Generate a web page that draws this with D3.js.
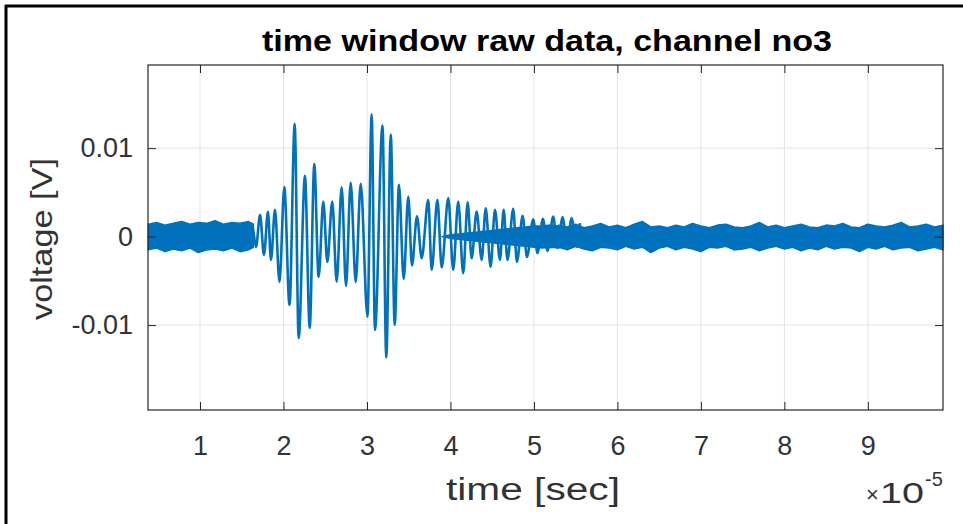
<!DOCTYPE html>
<html>
<head>
<meta charset="utf-8">
<script src="https://cdn.jsdelivr.net/npm/d3@7"></script>
<style>
  body { margin: 0; background: #fff; }
  svg { display: block; }
  text { font-family: "Liberation Sans", Arial, Helvetica, sans-serif; }
</style>
</head>
<body>
<div id="chart"></div>
<script>
// time in units of 1e-5 s, voltage in V
const xTicks = [1, 2, 3, 4, 5, 6, 7, 8, 9]
const yTicks = [-0.01, 0, 0.01]
const yTickLabels = ['-0.01', '0', '0.01']

// oscillation extrema of the burst
const burstTime = [1.599, 1.623, 1.671, 1.719, 1.766, 1.814, 1.850, 1.898, 1.952, 2.010,
  2.072, 2.134, 2.182, 2.257, 2.314, 2.369, 2.421, 2.477, 2.525, 2.584,
  2.637, 2.697, 2.749, 2.805, 2.865, 2.925, 3.006, 3.056, 3.096, 3.186,
  3.231, 3.285, 3.332, 3.383, 3.440, 3.495, 3.539, 3.599, 3.655, 3.734,
  3.775, 3.844, 3.895, 3.974, 4.033, 4.093, 4.153, 4.206, 4.254, 4.314,
  4.374, 4.422, 4.481, 4.533, 4.593, 4.637, 4.683, 4.752, 4.796, 4.865,
  4.916, 4.992, 5.042, 5.108, 5.162, 5.231, 5.281, 5.344, 5.395, 5.451,
  5.511, 5.551]
const burstVolt = [0, 0.00132, -0.00117, 0.00246, -0.00207, 0.00280, -0.00264, 0.00302, -0.00513, 0.00559,
  -0.00773, 0.01276, -0.01147, 0.00687, -0.01033, 0.00819, -0.00456, 0.00396, -0.00286, 0.00396,
  -0.00509, 0.00557, -0.00558, 0.00608, -0.00513, 0.00596, -0.00905, 0.01383, -0.01056, 0.01259,
  -0.01367, 0.01155, -0.00999, 0.00585, -0.00479, 0.00453, -0.00326, 0.00229, -0.00244, 0.00415,
  -0.00377, 0.00415, -0.00349, 0.00435, -0.00377, 0.00396, -0.00414, 0.00387, -0.00244, 0.00283,
  -0.00264, 0.00321, -0.00340, 0.00302, -0.00264, 0.00302, -0.00264, 0.00314, -0.00286, 0.00234,
  -0.00230, 0.00195, -0.00188, 0.00200, -0.00162, 0.00226, -0.00128, 0.00217, -0.00128, 0.00208,
  -0.00113, 0.00152]

// noise band envelope before the burst
const preTime = [0.38, 0.48, 0.58, 0.68, 0.78, 0.88, 0.98, 1.08, 1.18, 1.28, 1.38, 1.48, 1.58, 1.64]
const preUpper = [0.0014, 0.0016, 0.0013, 0.0015, 0.0017, 0.0014, 0.0016, 0.0015, 0.0018, 0.0014, 0.0016, 0.0015, 0.0017, 0.0014]
const preLower = [-0.0015, -0.0013, -0.0017, -0.0014, -0.0016, -0.0013, -0.0018, -0.0015, -0.0014, -0.0016, -0.0013, -0.0017, -0.0015, -0.0012]

// noise growing under the decaying tail
const tailTime = [3.9, 4.0, 4.1, 4.2, 4.3, 4.4, 4.5, 4.6, 4.7, 4.8, 4.9, 5.0, 5.1, 5.2, 5.3]
const tailUpper = [0, 0.0002, 0.0003, 0.0004, 0.0005, 0.0006, 0.0007, 0.0008, 0.0009, 0.0010, 0.0011, 0.0012, 0.0012, 0.0013, 0.0012]
const tailLower = [0, -0.0002, -0.0003, -0.0004, -0.0005, -0.0006, -0.0007, -0.0008, -0.0009, -0.0010, -0.0011, -0.0012, -0.0013, -0.0012, -0.0013]

// noise band envelope after the burst
const postTime = [5.3, 5.4, 5.5, 5.6, 5.7, 5.8, 5.9, 6.0, 6.1, 6.2,
  6.3, 6.4, 6.5, 6.6, 6.7, 6.8, 6.9, 7.0, 7.1, 7.2,
  7.3, 7.4, 7.5, 7.6, 7.7, 7.8, 7.9, 8.0, 8.1, 8.2,
  8.3, 8.4, 8.5, 8.6, 8.7, 8.8, 8.9, 9.0, 9.1, 9.2,
  9.3, 9.4, 9.5, 9.6, 9.7, 9.8, 9.9]
const postUpper = [0.0013, 0.0011, 0.0014, 0.0010, 0.0012, 0.0015, 0.0011, 0.0013, 0.0010, 0.0014,
  0.0017, 0.0011, 0.0012, 0.0010, 0.0013, 0.0011, 0.0015, 0.0012, 0.0010, 0.0013,
  0.0014, 0.0011, 0.0010, 0.0012, 0.0016, 0.0011, 0.0013, 0.0010, 0.0012, 0.0014,
  0.0011, 0.0010, 0.0013, 0.0012, 0.0015, 0.0011, 0.0010, 0.0014, 0.0012, 0.0011,
  0.0013, 0.0016, 0.0011, 0.0012, 0.0014, 0.0011, 0.0013]
const postLower = [-0.0012, -0.0015, -0.0011, -0.0014, -0.0016, -0.0012, -0.0013, -0.0015, -0.0011, -0.0014,
  -0.0012, -0.0018, -0.0013, -0.0011, -0.0015, -0.0012, -0.0014, -0.0017, -0.0012, -0.0013,
  -0.0011, -0.0015, -0.0014, -0.0012, -0.0016, -0.0013, -0.0011, -0.0014, -0.0012, -0.0016,
  -0.0013, -0.0015, -0.0011, -0.0014, -0.0012, -0.0013, -0.0017, -0.0012, -0.0014, -0.0011,
  -0.0015, -0.0013, -0.0012, -0.0016, -0.0014, -0.0012, -0.0015]

// Const variables
const width = 963
const height = 524
const plot = { left: 148, right: 943, top: 65, bottom: 410 }
const lineColor = '#0072BD'
const axisColor = '#262626'
const textColor = '#333'
const tickFontSize = 27

const svg = d3.select('#chart')
  .append('svg')
    .attr('width', width)
    .attr('height', height)

const x = d3.scaleLinear().domain([0.377, 9.9]).range([plot.left, plot.right])
const y = d3.scaleLinear().domain([-0.0196, 0.0194]).range([plot.bottom, plot.top])

// Grid
const grid = svg.append('g').attr('stroke', '#e3e3e3').attr('stroke-width', 1)
xTicks.forEach(t => grid.append('line')
  .attr('x1', x(t)).attr('x2', x(t)).attr('y1', plot.top).attr('y2', plot.bottom))
yTicks.forEach(v => grid.append('line')
  .attr('x1', plot.left).attr('x2', plot.right).attr('y1', y(v)).attr('y2', y(v)))

// Noise bands
const band = d3.area()
  .x(d => x(d[0]))
  .y0(d => y(d[2]))
  .y1(d => y(d[1]))

const bands = [
  d3.zip(preTime, preUpper, preLower),
  d3.zip(tailTime, tailUpper, tailLower),
  d3.zip(postTime, postUpper, postLower)
]
svg.append('g').selectAll('path')
  .data(bands)
  .enter()
  .append('path')
    .attr('d', band)
    .attr('fill', lineColor)
    .attr('stroke', lineColor)
    .attr('stroke-width', 1.5)
    .attr('stroke-linejoin', 'round')

// Burst
const line = d3.line()
  .x(d => x(d[0]))
  .y(d => y(d[1]))
  .curve(d3.curveMonotoneX)

svg.append('path')
  .datum(d3.zip(burstTime, burstVolt))
  .attr('d', line)
  .attr('fill', 'none')
  .attr('stroke', lineColor)
  .attr('stroke-width', 2.6)
  .attr('stroke-linejoin', 'round')

// Axes (ticks inside, box on)
const tickLen = 8
const xAxis = svg.append('g')
  .attr('transform', 'translate(0,' + plot.bottom + ')')
  .call(d3.axisBottom(x).tickValues(xTicks).tickSize(-tickLen).tickPadding(26).tickFormat(d3.format('d')))
const xAxisTop = svg.append('g')
  .attr('transform', 'translate(0,' + plot.top + ')')
  .call(d3.axisTop(x).tickValues(xTicks).tickSize(-tickLen).tickFormat(''))
const yAxis = svg.append('g')
  .attr('transform', 'translate(' + plot.left + ',0)')
  .call(d3.axisLeft(y).tickValues(yTicks).tickSize(-tickLen).tickPadding(15).tickFormat((d, i) => yTickLabels[i]))
const yAxisRight = svg.append('g')
  .attr('transform', 'translate(' + plot.right + ',0)')
  .call(d3.axisRight(y).tickValues(yTicks).tickSize(-tickLen).tickFormat(''))

;[xAxis, xAxisTop, yAxis, yAxisRight].forEach(a => {
  a.select('.domain').remove()
  a.selectAll('line').attr('stroke', axisColor)
  a.selectAll('text')
    .attr('fill', textColor)
    .attr('font-size', tickFontSize)
})

svg.append('rect')
  .attr('x', plot.left)
  .attr('y', plot.top)
  .attr('width', plot.right - plot.left)
  .attr('height', plot.bottom - plot.top)
  .attr('fill', 'none')
  .attr('stroke', axisColor)
  .attr('stroke-width', 1.2)

// Labels
svg.append('text')
  .attr('x', 547)
  .attr('y', 51)
  .attr('text-anchor', 'middle')
  .attr('font-size', 30)
  .attr('font-weight', 'bold')
  .attr('fill', '#000')
  .attr('textLength', 570)
  .attr('lengthAdjust', 'spacingAndGlyphs')
  .text('time window raw data, channel no3')

svg.append('text')
  .attr('x', 533)
  .attr('y', 500)
  .attr('text-anchor', 'middle')
  .attr('font-size', 31)
  .attr('fill', textColor)
  .attr('textLength', 174)
  .attr('lengthAdjust', 'spacingAndGlyphs')
  .text('time [sec]')

svg.append('text')
  .attr('transform', 'translate(52,239) rotate(-90)')
  .attr('text-anchor', 'middle')
  .attr('font-size', 30)
  .attr('fill', textColor)
  .attr('textLength', 162)
  .attr('lengthAdjust', 'spacingAndGlyphs')
  .text('voltage [V]')

// exponent of the x axis
svg.append('text')
  .attr('x', 866)
  .attr('y', 502)
  .attr('font-size', 22)
  .attr('fill', textColor)
  .text('\u00d7')
svg.append('text')
  .attr('x', 880)
  .attr('y', 503)
  .attr('font-size', 30)
  .attr('fill', textColor)
  .attr('textLength', 44)
  .attr('lengthAdjust', 'spacingAndGlyphs')
  .text('10')
svg.append('text')
  .attr('x', 925)
  .attr('y', 486)
  .attr('font-size', 20)
  .attr('fill', textColor)
  .text('-5')

// Frame of the screenshot
svg.append('line')
  .attr('x1', 5).attr('x2', width).attr('y1', 6).attr('y2', 6)
  .attr('stroke', '#000').attr('stroke-width', 3)
svg.append('line')
  .attr('x1', 6).attr('x2', 6).attr('y1', 5).attr('y2', height)
  .attr('stroke', '#000').attr('stroke-width', 3)
</script>
</body>
</html>
